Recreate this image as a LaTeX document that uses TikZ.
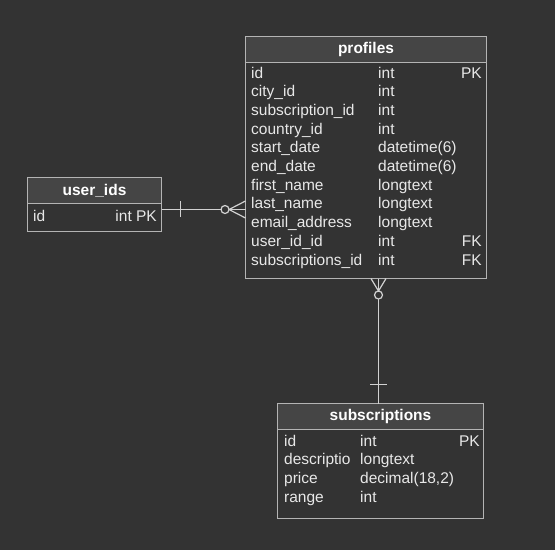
\documentclass[tikz,border=0pt]{standalone}
\usepackage{fontspec}
\setmainfont{Liberation Sans}
\usetikzlibrary{calc,positioning}

\definecolor{canvas}{HTML}{333333}
\definecolor{headfill}{HTML}{454545}
\definecolor{boxline}{HTML}{B4B4B4}
\definecolor{wire}{HTML}{D2D2D2}
\definecolor{fieldtext}{HTML}{E8E8E8}

\begin{document}
\begin{tikzpicture}[x=1pt,y=-1pt,
  tblhead/.style={draw=boxline,line width=1.2pt,fill=headfill,anchor=north west,
    inner sep=0pt,outer sep=0pt,text=white,font=\fontsize{15.5}{18}\selectfont\bfseries},
  tblbody/.style={draw=boxline,line width=1.2pt,fill=canvas,anchor=north west,
    inner sep=0pt,outer sep=0pt},
  fld/.style={inner sep=0pt,text=fieldtext,font=\fontsize{15.5}{18}\selectfont},
  wireline/.style={draw=wire,line width=1.2pt}]
  % background + bounding box
  \fill[canvas] (0,0) rectangle (555,550);
  \useasboundingbox (0,0) rectangle (555,550);

  % === profiles ===
  \node[tblhead,minimum width=241pt,minimum height=26pt] (profiles) at (245.5,36.5) {profiles};
  \node[tblbody,minimum width=241pt,minimum height=216pt] (profilesbody) at (profiles.south west) {};
  \foreach \fname/\ftype [count=\i] in {id/int,city\_id/int,subscription\_id/int,country\_id/int,
      start\_date/datetime(6),end\_date/datetime(6),first\_name/longtext,last\_name/longtext,
      email\_address/longtext,user\_id\_id/int,subscriptions\_id/int} {
    \node[fld,anchor=base west] (pfname\i) at (251,{78+(\i-1)*18.7}) {\fname};
    \node[fld,anchor=base west] (pftype\i) at (378,{78+(\i-1)*18.7}) {\ftype};
  }
  \node[fld,anchor=base east] (pfkey1) at (482,78) {PK};
  \node[fld,anchor=base east] (pfkey10) at (482,{78+9*18.7}) {FK};
  \node[fld,anchor=base east] (pfkey11) at (482,{78+10*18.7}) {FK};

  % === user_ids ===
  \node[tblhead,minimum width=134pt,minimum height=26pt] (userids) at (27.5,177.5) {user\_ids};
  \node[tblbody,minimum width=134pt,minimum height=28pt] (useridsbody) at (userids.south west) {};
  \node[fld,anchor=base west] (uidname1) at (33,221) {id};
  \node[fld,anchor=base east] (uidtype1) at (157,221) {int PK};

  % === subscriptions ===
  \node[tblhead,minimum width=206pt,minimum height=26pt] (subscriptions) at (277.5,403.5) {subscriptions};
  \node[tblbody,minimum width=206pt,minimum height=89pt] (subsbody) at (subscriptions.south west) {};
  \foreach \fname/\ftype [count=\i] in {id/int,descriptio/longtext,price/{decimal(18,2)},range/int} {
    \node[fld,anchor=base west] (sbname\i) at (284,{446+(\i-1)*18.7}) {\fname};
    \node[fld,anchor=base west] (sbtype\i) at (360,{446+(\i-1)*18.7}) {\ftype};
  }
  \node[fld,anchor=base east] (sbkey1) at (480,446) {PK};

  % === user_ids -> profiles (one to zero-or-many) ===
  \coordinate (uidport) at (useridsbody.east |- 0,209.5);
  \coordinate (pfport) at (profilesbody.west |- 0,209.5);
  \draw[wireline] (uidport) -- (pfport);
  \draw[wireline] (180.5,201) -- (180.5,217);
  \draw[wireline] (229,209.5) -- (245.5,201) (229,209.5) -- (245.5,218);
  \draw[wireline,fill=canvas] (225,209.5) circle (4);

  % === profiles -> subscriptions (zero-or-many to one) ===
  \coordinate (pfdown) at (378.5,0 |- profilesbody.south);
  \coordinate (sbup) at (378.5,0 |- subscriptions.north);
  \draw[wireline] (pfdown) -- (sbup);
  \draw[wireline] (378.5,291) -- (371,278.5) (378.5,291) -- (386,278.5);
  \draw[wireline,fill=canvas] (378.5,295) circle (4);
  \draw[wireline] (370,384.5) -- (387,384.5);
\end{tikzpicture}
\end{document}
